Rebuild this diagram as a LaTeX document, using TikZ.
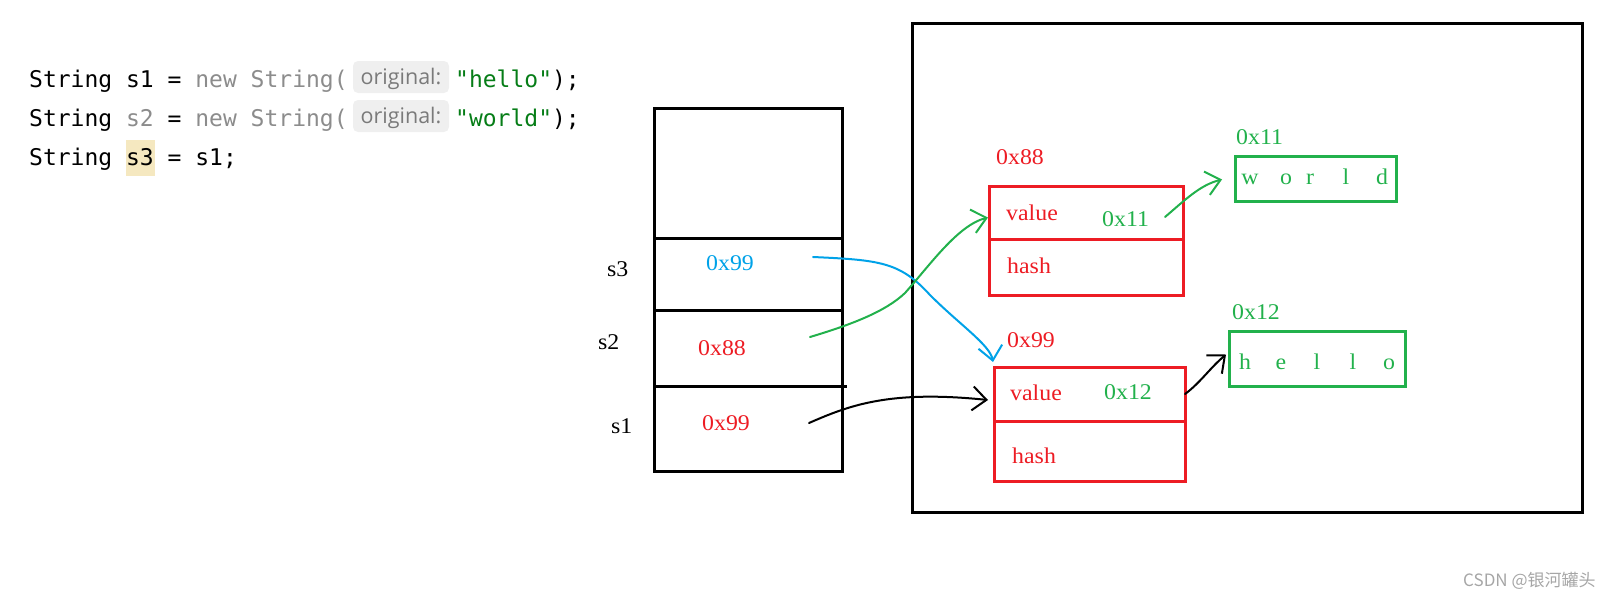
\documentclass[tikz,border=0pt]{standalone}
\usepackage{fontspec}
\setmainfont{Liberation Serif}
\newfontfamily\diagfont[FakeStretch=1.06]{Liberation Serif}
\newfontfamily\codefont{DejaVu Sans Mono}
\newfontfamily\chipfont{Open Sans}
\newfontfamily\cjkfont{Noto Sans CJK SC}
\usetikzlibrary{arrows.meta}
\definecolor{pred}{HTML}{ED1C24}
\definecolor{pgreen}{HTML}{22B14C}
\definecolor{pblue}{HTML}{00A2E8}
\definecolor{codegray}{HTML}{8C8C8C}
\definecolor{codegreen}{HTML}{067D17}
\definecolor{chipbg}{HTML}{EFEFEF}
\definecolor{chiptext}{HTML}{7A7A7A}
\definecolor{hlbg}{HTML}{F5E8C0}
\definecolor{wmgray}{HTML}{A6A6A6}
\tikzset{
  cellbox/.style={draw=black, line width=3pt, minimum width=188pt, inner sep=0pt, outer sep=0pt},
  objbox/.style={draw=pred, line width=3pt, inner sep=0pt, outer sep=0pt},
  strbox/.style={draw=pgreen, line width=3pt, inner sep=0pt, outer sep=0pt},
  dtext/.style={inner sep=0pt, font=\diagfont\fontsize{22.5}{25}\selectfont},
  codetext/.style={inner sep=0pt, anchor=base west, font=\codefont\fontsize{23}{27}\selectfont},
  chip/.style={fill=chipbg, rounded corners=5pt, minimum width=96pt, minimum height=32pt, inner sep=0pt},
  chiplabel/.style={inner sep=0pt, anchor=base, font=\chipfont\fontsize{21.5}{25}\selectfont, text=chiptext},
  hand/.style={line width=2pt, line cap=round, line join=round,
     -{Straight Barb[length=14pt,width=24pt,line width=2pt]}},
}
\begin{document}
\begin{tikzpicture}[x=1pt,y=-1pt]
\useasboundingbox (0,0) rectangle (1614,598);

% ---------- code ----------
\node[fill=hlbg, minimum width=29pt, minimum height=36pt, inner sep=0pt] (hl) at (140,158) {};
\node[codetext] (c1a) at (29,87) {String s1 = {\color{codegray}new String(}};
\node[chip] (chip1) at (401,77) {};
\node[chiplabel] (chip1t) at (401,84) {original:};
\node[codetext] (c1b) at (455,87) {{\color{codegreen}"hello"});};
\node[codetext] (c2a) at (29,126) {String {\color{codegray}s2} = {\color{codegray}new String(}};
\node[chip] (chip2) at (401,116) {};
\node[chiplabel] (chip2t) at (401,123) {original:};
\node[codetext] (c2b) at (455,126) {{\color{codegreen}"world"});};
\node[codetext] (c3) at (29,165) {String s3 = s1;};

% ---------- stack ----------
\node[cellbox, minimum height=130pt] (top) at (748,173) {};
\node[cellbox, minimum height=72pt] (cs3) at (748,274) {};
\node[cellbox, minimum height=76pt] (cs2) at (748,348) {};
\node[cellbox, minimum height=85pt] (cs1) at (748,428.5) {};
\coordinate (ext) at (847,386);
\draw[line width=3pt] (cs1.north east) -- (ext);

\node[dtext, anchor=base west] (ls3) at (607,276) {s3};
\node[dtext, anchor=base west] (ls2) at (598,349) {s2};
\node[dtext, anchor=base west] (ls1) at (611,433) {s1};
\node[dtext, anchor=base west, text=pblue] (v3) at (706,270) {0x99};
\node[dtext, anchor=base west, text=pred] (v2) at (698,355) {0x88};
\node[dtext, anchor=base west, text=pred] (v1) at (702,430) {0x99};

% ---------- heap ----------
\node[draw=black, line width=3pt, minimum width=670pt, minimum height=489pt, inner sep=0pt] (heap) at (1247,267.5) {};

\node[objbox, minimum width=194pt, minimum height=53pt] (o1v) at (1086,212.5) {};
\node[objbox, minimum width=194pt, minimum height=56pt] (o1h) at (1086,267) {};
\node[objbox, minimum width=191pt, minimum height=54pt] (o2v) at (1089.5,394) {};
\node[objbox, minimum width=191pt, minimum height=60pt] (o2h) at (1089.5,451) {};

\node[dtext, anchor=base west, text=pred] (a88) at (996,164) {0x88};
\node[dtext, anchor=base west, text=pred] (a99) at (1007,347) {0x99};
\node[dtext, anchor=base west, text=pred] (val1) at (1006,220) {value};
\node[dtext, anchor=base west, text=pred] (hash1) at (1007,273) {hash};
\node[dtext, anchor=base west, text=pred] (val2) at (1010,400) {value};
\node[dtext, anchor=base west, text=pred] (hash2) at (1012,463) {hash};
\node[dtext, anchor=base west, text=pgreen] (p11) at (1102,226) {0x11};
\node[dtext, anchor=base west, text=pgreen] (p12) at (1104,399) {0x12};

\node[strbox, minimum width=161pt, minimum height=45pt] (world) at (1315.5,178.5) {};
\node[strbox, minimum width=176pt, minimum height=55pt] (hello) at (1317,358.5) {};
\node[dtext, anchor=base west, text=pgreen] (a11) at (1236,144) {0x11};
\node[dtext, anchor=base west, text=pgreen] (a12) at (1232,319) {0x12};

\node[dtext, anchor=base, text=pgreen] (w1) at (1250,184) {w};
\node[dtext, anchor=base, text=pgreen] (w2) at (1286,184) {o};
\node[dtext, anchor=base, text=pgreen] (w3) at (1310,184) {r};
\node[dtext, anchor=base, text=pgreen] (w4) at (1346,184) {l};
\node[dtext, anchor=base, text=pgreen] (w5) at (1382,184) {d};
\node[dtext, anchor=base, text=pgreen] (h1) at (1245,369) {h};
\node[dtext, anchor=base, text=pgreen] (h2) at (1281,369) {e};
\node[dtext, anchor=base, text=pgreen] (h3) at (1317,369) {l};
\node[dtext, anchor=base, text=pgreen] (h4) at (1353,369) {l};
\node[dtext, anchor=base, text=pgreen] (h5) at (1389,369) {o};

% ---------- connectors ----------
\coordinate (b0) at (813,257);
\coordinate (g0) at (810,337);
\coordinate (k0) at (809,423);
\coordinate (g1) at (1165,217);

\draw[hand, pblue] (b0) .. controls (880,260) and (900,262) .. (930,295)
   .. controls (960,325) and (990,345) .. ([xshift=-1pt,yshift=5pt]o2v.north west);
\draw[hand, pgreen] (g0) .. controls (850,325) and (885,312) .. (905,293)
   .. controls (930,265) and (958,225) .. ([xshift=-1pt,yshift=-5pt]o1v.west);
\draw[hand, black] (k0) .. controls (850,405) and (890,390) .. ([xshift=-6pt,yshift=-6pt]o2v.west);
\draw[hand, pgreen] (g1) .. controls (1185,200) and (1200,185) .. ([xshift=-13pt,yshift=-1pt]world.west);
\draw[hand, black] (o2v.east) .. controls (1200,383) and (1210,368) .. ([xshift=-3pt,yshift=4pt]hello.west);

% ---------- watermark ----------
\node[inner sep=0pt, anchor=west, text=wmgray, font=\cjkfont\fontsize{17}{20}\selectfont] (wm) at (1463,581) {CSDN @银河罐头};
\end{tikzpicture}
\end{document}
